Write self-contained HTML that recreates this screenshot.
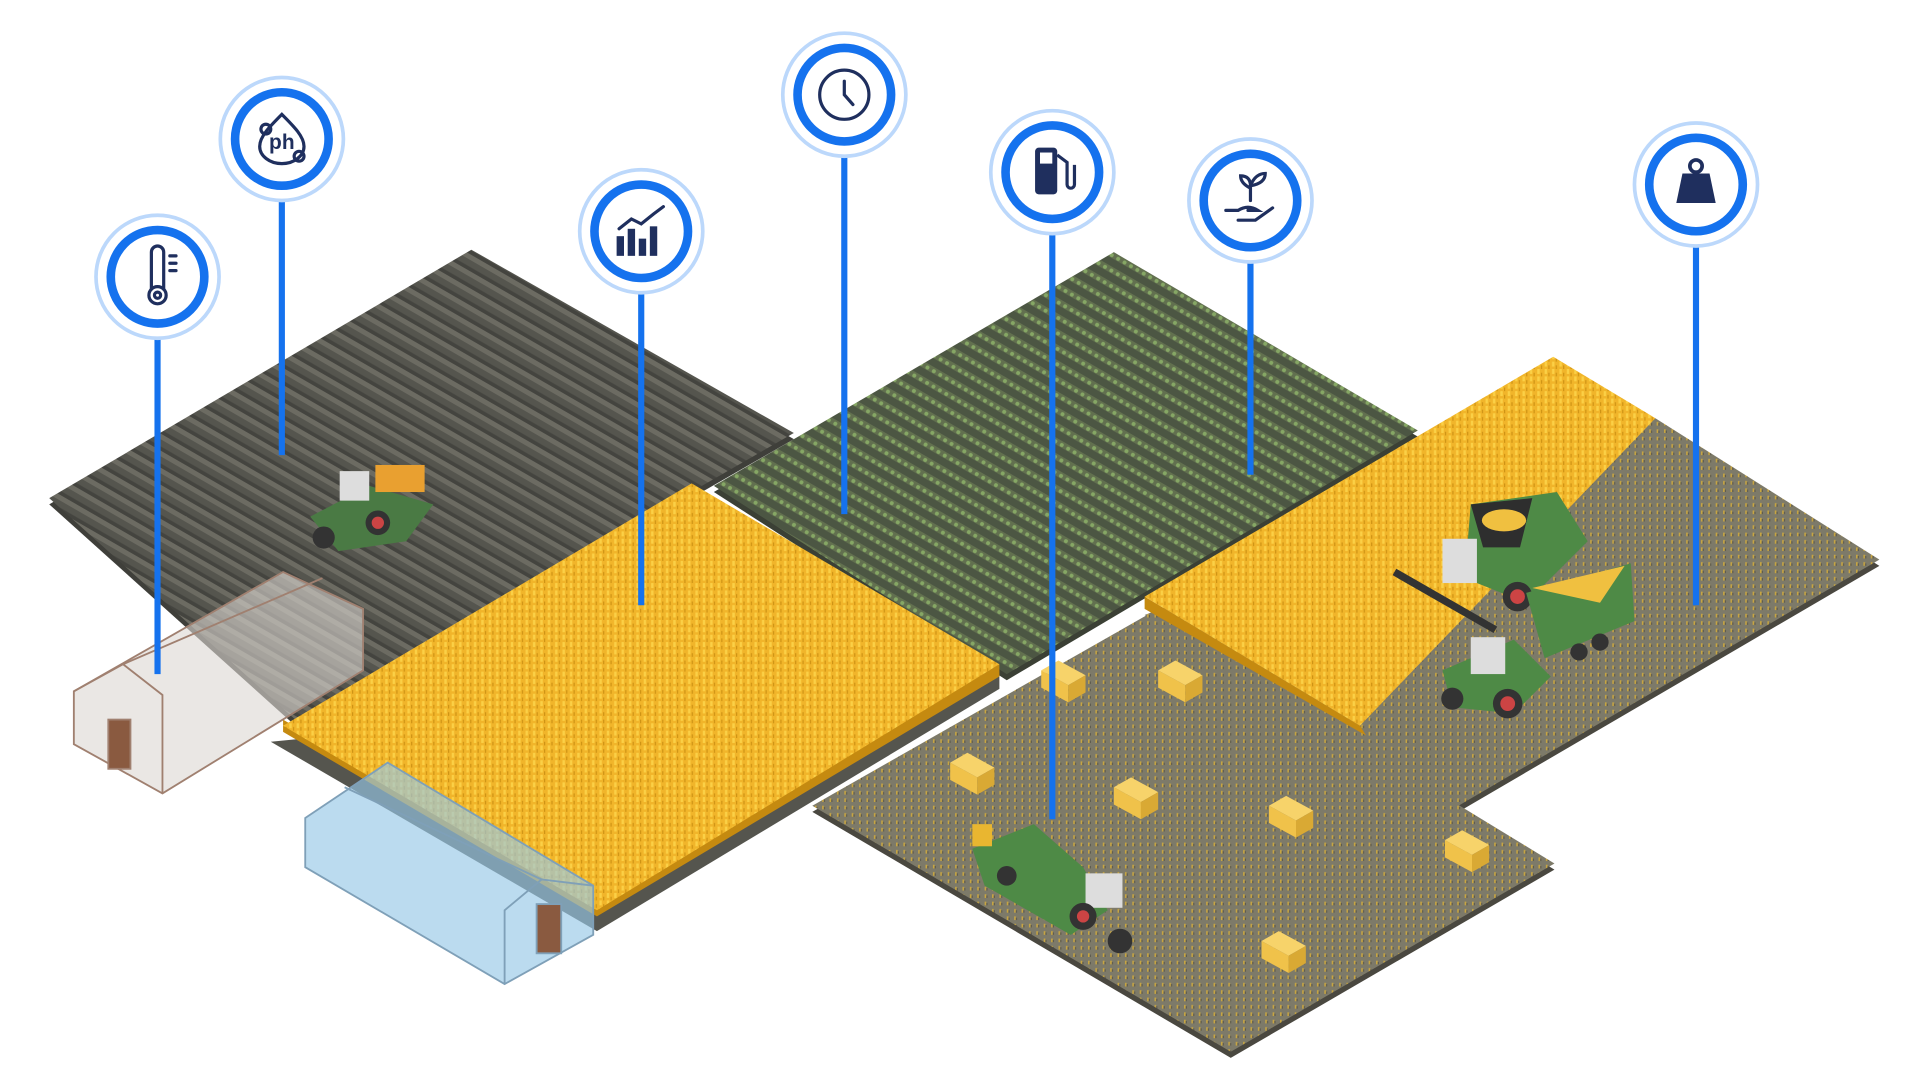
<!DOCTYPE html>
<html><head><meta charset="utf-8"><style>html,body{margin:0;padding:0;background:#fff;width:1920px;height:1080px;overflow:hidden}svg{display:block}</style></head>
<body>
<svg width="1920" height="1080" viewBox="0 0 1560 878" preserveAspectRatio="none" xmlns="http://www.w3.org/2000/svg">
<defs>
<pattern id="plow" width="20" height="12" patternUnits="userSpaceOnUse" patternTransform="rotate(30)">
<rect width="20" height="12" fill="#55554e"/><rect y="0" width="20" height="4" fill="#6c6b62"/><rect y="9" width="20" height="3" fill="#44443f"/></pattern>
<pattern id="green" width="12" height="11" patternUnits="userSpaceOnUse" patternTransform="rotate(30)">
<rect width="12" height="11" fill="#4c5643"/><rect y="0" width="12" height="5" fill="#62704f"/><circle cx="4" cy="3" r="1.6" fill="#86a765"/><circle cx="10" cy="3" r="1.6" fill="#86a765"/></pattern>
<pattern id="wheat" width="6" height="6" patternUnits="userSpaceOnUse">
<rect width="6" height="6" fill="#f1b52a"/><rect x="1" y="0" width="2" height="4" fill="#fbd046"/><rect x="4" y="3" width="1" height="3" fill="#cf9415"/></pattern>
<pattern id="stub" width="6" height="6" patternUnits="userSpaceOnUse">
<rect width="6" height="6" fill="#7d7a69"/><rect x="2" y="1" width="1.4" height="3" fill="#c7a542"/><rect x="3.4" y="2" width="1" height="2" fill="#5d5a4f"/></pattern>
<g id="bale"><polygon points="0,0 14,-8 36,4 22,12" fill="#f7d36a"/><polygon points="0,0 22,12 22,26 0,14" fill="#f0c24a"/><polygon points="22,12 36,4 36,18 22,26" fill="#d9a934"/></g>
</defs>
<!-- dark field -->
<polygon points="383,203 645,352 240,585 40,405" fill="#3f3f3a" transform="translate(0,5)"/>
<polygon points="383,203 645,352 240,585 40,405" fill="url(#plow)"/>
<!-- green field -->
<polygon points="905,205 1152,350 818,548 580,395" fill="#3b4035" transform="translate(0,5)"/>
<polygon points="905,205 1152,350 818,548 580,395" fill="url(#green)"/>
<!-- right stubble -->
<polygon points="1345,340 1527,455 1185,655 930,500" fill="#4a4840" transform="translate(0,5)"/>
<polygon points="1345,340 1527,455 1185,655 930,500" fill="url(#stub)"/>
<!-- bottom stubble -->
<polygon points="932,500 1263,702 1000,855 660,655" fill="#4a4840" transform="translate(0,5)"/>
<polygon points="932,500 1263,702 1000,855 660,655" fill="url(#stub)"/>
<!-- big wheat -->
<polygon points="220,603 485,757 812,560 812,545" fill="#55554e"/>
<polygon points="230,595 485,745 812,550 812,540 485,735 230,585" fill="#c58a10"/>
<polygon points="562,393 812,540 485,740 230,590" fill="url(#wheat)"/>
<!-- right wheat -->
<polygon points="930,485 1105,590 1110,598 930,495" fill="#c58a10"/>
<polygon points="1262,290 1345,340 1105,590 930,485" fill="url(#wheat)"/>
<!-- bales -->
<use href="#bale" x="846" y="545"/><use href="#bale" x="941" y="545"/><use href="#bale" x="772" y="620"/><use href="#bale" x="905" y="640"/><use href="#bale" x="1031" y="655"/><use href="#bale" x="1174" y="683"/><use href="#bale" x="1025" y="765"/>
<!-- greenhouses -->
<g stroke="#a08070" stroke-width="1.5" fill="rgba(220,215,210,0.6)">
<polygon points="60,562 230,465 295,495 295,545 132,645 60,605"/>
<polyline points="60,562 100,540 132,565 132,645" fill="none"/>
<polyline points="100,540 262,470" fill="none"/>
<rect x="88" y="585" width="18" height="40" fill="#8a5a40"/>
</g>
<g stroke="#7fa0b8" stroke-width="1.5" fill="rgba(150,200,230,0.65)">
<polygon points="248,665 315,620 482,720 482,760 410,800 248,705"/>
<polyline points="410,800 410,740 440,715 482,720" fill="none"/>
<polyline points="280,640 440,715" fill="none"/>
<rect x="436" y="735" width="20" height="40" fill="#8a5a40"/>
</g>
<!-- tractor small -->
<g><polygon points="252,420 300,395 352,410 330,440 275,448" fill="#4a7a44"/><rect x="276" y="383" width="24" height="24" fill="#ddd"/><rect x="305" y="378" width="40" height="22" fill="#e9a030"/><circle cx="263" cy="437" r="9" fill="#333"/><circle cx="307" cy="425" r="10" fill="#333"/><circle cx="307" cy="425" r="5" fill="#c44"/></g>
<!-- baler tractor -->
<g><polygon points="790,690 840,670 880,705 900,740 870,760 800,720" fill="#4e8a46"/><rect x="882" y="710" width="30" height="28" fill="#ddd"/><circle cx="880" cy="745" r="11" fill="#333"/><circle cx="880" cy="745" r="5" fill="#c44"/><circle cx="910" cy="765" r="10" fill="#333"/><circle cx="818" cy="712" r="8" fill="#333"/><rect x="790" y="670" width="16" height="18" fill="#e9b630"/></g>
<!-- combine -->
<g><polygon points="1195,410 1265,400 1290,440 1240,490 1190,470" fill="#4e8a46"/><polygon points="1195,410 1245,405 1235,445 1205,445" fill="#2e2e2e"/><ellipse cx="1222" cy="423" rx="18" ry="9" fill="#f0c040"/><rect x="1172" y="438" width="28" height="36" fill="#ddd"/><line x1="1133" y1="465" x2="1215" y2="512" stroke="#333" stroke-width="6"/><circle cx="1233" cy="485" r="12" fill="#333"/><circle cx="1233" cy="485" r="6" fill="#c44"/>
<polygon points="1240,482 1325,458 1328,505 1255,535" fill="#4e8a46"/><polygon points="1245,478 1320,460 1300,490" fill="#f0c040"/><circle cx="1300" cy="522" r="7" fill="#333"/><circle cx="1283" cy="530" r="7" fill="#333"/>
<polygon points="1172,545 1230,520 1260,550 1230,580 1180,575" fill="#4e8a46"/><rect x="1195" y="518" width="28" height="30" fill="#ddd"/><circle cx="1225" cy="572" r="12" fill="#333"/><circle cx="1225" cy="572" r="6" fill="#c44"/><circle cx="1180" cy="568" r="9" fill="#333"/></g>
<!-- pins -->
<g stroke="#1572ee" stroke-width="5" stroke-linecap="butt">
<line x1="128" y1="260" x2="128" y2="548"/><line x1="229" y1="150" x2="229" y2="370"/><line x1="521" y1="225" x2="521" y2="492"/><line x1="686" y1="112" x2="686" y2="418"/><line x1="855" y1="178" x2="855" y2="666"/><line x1="1016" y1="200" x2="1016" y2="386"/><line x1="1378" y1="186" x2="1378" y2="492"/>
</g>
<g fill="#fff">
<g transform="translate(128,225)"><circle r="50" stroke="#bcd8fb" stroke-width="3"/><circle r="38" stroke="#1572ee" stroke-width="7"/></g>
<g transform="translate(229,113)"><circle r="50" stroke="#bcd8fb" stroke-width="3"/><circle r="38" stroke="#1572ee" stroke-width="7"/></g>
<g transform="translate(521,188)"><circle r="50" stroke="#bcd8fb" stroke-width="3"/><circle r="38" stroke="#1572ee" stroke-width="7"/></g>
<g transform="translate(686,77)"><circle r="50" stroke="#bcd8fb" stroke-width="3"/><circle r="38" stroke="#1572ee" stroke-width="7"/></g>
<g transform="translate(855,140)"><circle r="50" stroke="#bcd8fb" stroke-width="3"/><circle r="38" stroke="#1572ee" stroke-width="7"/></g>
<g transform="translate(1016,163)"><circle r="50" stroke="#bcd8fb" stroke-width="3"/><circle r="38" stroke="#1572ee" stroke-width="7"/></g>
<g transform="translate(1378,150)"><circle r="50" stroke="#bcd8fb" stroke-width="3"/><circle r="38" stroke="#1572ee" stroke-width="7"/></g>
</g>
<!-- icons -->
<g stroke="#1f2f5e" stroke-width="2.6" fill="none" stroke-linecap="round">
<g transform="translate(128,225)"><path d="M-5,10 V-20 a5,5 0 0 1 10,0 V10"/><circle cx="0" cy="15" r="7"/><circle cx="0" cy="15" r="2.5"/><path d="M10,-17h5M10,-11h5M10,-5h5"/></g>
<g transform="translate(229,113)"><path d="M0,-20 C10,-10 18,-2 18,6 A18,14 0 0 1 -18,6 C-18,-2 -10,-10 0,-20Z"/><circle cx="-13" cy="-8" r="4"/><circle cx="14" cy="14" r="4"/></g>
<g transform="translate(686,77)"><circle r="20"/><path d="M0,-11 V0 L7,8"/></g>
<g transform="translate(1016,163)"><path d="M-20,8 h10 q8,-5 16,0 h-8 M-10,16 h14 l14,-10"/><path d="M0,0 V-12 M0,-10 q-8,-4 -8,-10 q8,0 8,8 M0,-12 q4,-10 12,-10 q0,8 -12,10"/></g>
<g transform="translate(521,188)"><path d="M-18,-2 l10,-8 l8,4 l10,-8 l8,-6"/></g>
</g>
<g fill="#1f2f5e">
<text x="229" y="121" font-family="Liberation Sans, sans-serif" font-weight="bold" font-size="17" text-anchor="middle">ph</text>
<g transform="translate(521,188)"><rect x="-20" y="4" width="6" height="16"/><rect x="-11" y="-2" width="6" height="22"/><rect x="-2" y="6" width="6" height="14"/><rect x="7" y="-4" width="6" height="24"/></g>
<g transform="translate(855,140)"><rect x="-14" y="-20" width="18" height="38" rx="3"/><rect x="-10" y="-16" width="10" height="9" fill="#fff"/><path d="M4,-14 l8,6 v18 a3,3 0 0 0 6,0 v-16" stroke="#1f2f5e" stroke-width="2.6" fill="none"/></g>
<g transform="translate(1378,150)"><circle cx="0" cy="-15" r="5" fill="none" stroke="#1f2f5e" stroke-width="3"/><path d="M-11,-9 h22 l5,24 h-32 z"/></g>
</g>
</svg>
</body></html>
